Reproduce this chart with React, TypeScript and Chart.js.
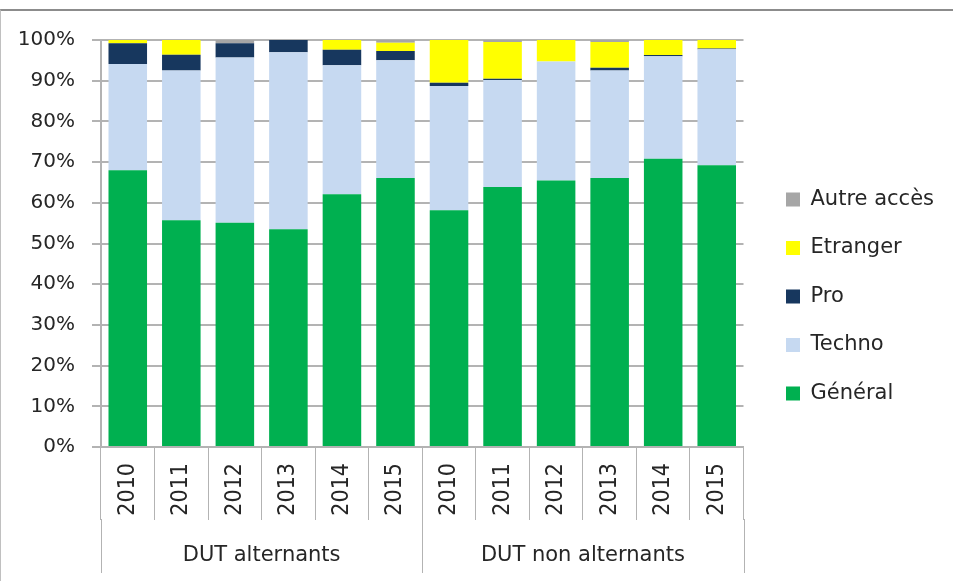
import React, { useEffect, useRef } from 'react';
import { Chart, registerables } from 'chart.js';

Chart.register(...registerables);

// ---- data ----
const years = ['2010', '2011', '2012', '2013', '2014', '2015'];
const groups = ['DUT alternants', 'DUT non alternants'];
const categories = groups.flatMap(() => years);

const general = [68.0, 55.7, 55.1, 53.5, 62.1, 66.1, 58.2, 63.9, 65.5, 66.1, 70.8, 69.2];
const techno = [26.1, 36.8, 40.6, 43.5, 31.7, 28.9, 30.5, 26.3, 29.2, 26.4, 25.2, 28.5];
const pro = [5.1, 3.9, 3.5, 3.0, 3.8, 2.3, 0.8, 0.3, 0.0, 0.7, 0.3, 0.2];
const etranger = [0.8, 3.6, 0.0, 0.0, 2.4, 2.0, 10.5, 9.0, 5.3, 6.3, 3.7, 2.1];
const autre = [0.0, 0.0, 0.8, 0.0, 0.0, 0.7, 0.0, 0.5, 0.0, 0.5, 0.0, 0.0];

const seriesNames = ['Général', 'Techno', 'Pro', 'Etranger', 'Autre accès'];
const seriesValues = [general, techno, pro, etranger, autre];
const seriesColors = ['#00B050', '#C6D9F1', '#17375E', '#FFFF00', '#A6A6A6'];

const yMax = 100;
const yStep = 10;

// ---- style ----
const TEXT = '#262626';
const GRID = '#b3b3b3';
const FONT = 'DejaVu Sans, sans-serif';
const FONT_COND = '"DejaVu Sans Condensed", "DejaVu Sans", sans-serif';
const TICK_LEN_X = 73;
const GROUP_LEN = 126;

const groupPlugin = {
  id: 'groupLabels',
  afterDraw(chart: any) {
    const xs = chart.scales.x;
    const ctx = chart.ctx;
    const n = years.length;
    const step = xs.getPixelForValue(1) - xs.getPixelForValue(0);
    ctx.save();
    ctx.strokeStyle = GRID;
    ctx.lineWidth = 1;
    for (let g = 0; g <= groups.length; g++) {
      const x = Math.round(xs.getPixelForValue(g * n) - step / 2) + 0.5;
      ctx.beginPath();
      ctx.moveTo(x, xs.top + TICK_LEN_X - 1);
      ctx.lineTo(x, xs.top + GROUP_LEN);
      ctx.stroke();
    }
    ctx.fillStyle = TEXT;
    ctx.font = `21px ${FONT}`;
    ctx.textAlign = 'center';
    ctx.textBaseline = 'middle';
    groups.forEach((name, g) => {
      const x0 = xs.getPixelForValue(g * n) - step / 2;
      const x1 = xs.getPixelForValue((g + 1) * n) - step / 2;
      ctx.fillText(name, (x0 + x1) / 2, xs.top + 109);
    });
    ctx.restore();
  },
};

export default function App() {
  const ref = useRef<HTMLCanvasElement | null>(null);

  useEffect(() => {
    if (!ref.current) return;
    const chart = new Chart(ref.current, {
      type: 'bar',
      data: {
        labels: categories,
        datasets: seriesNames.map((name, i) => ({
          label: name,
          data: seriesValues[i],
          backgroundColor: seriesColors[i],
          borderWidth: 0,
          barPercentage: 0.72,
          categoryPercentage: 1,
        })),
      },
      options: {
        responsive: false,
        maintainAspectRatio: false,
        animation: false,
        layout: { padding: { top: 12, right: 9, bottom: 0, left: 0 } },
        plugins: {
          tooltip: { enabled: false },
          legend: {
            position: 'right',
            align: 'center',
            reverse: true,
            maxWidth: 400,
            labels: {
              boxWidth: 14,
              boxHeight: 14,
              padding: 27.5,
              color: TEXT,
              font: { family: FONT, size: 21 },
            },
          },
        },
        scales: {
          x: {
            stacked: true,
            offset: true,
            grid: {
              offset: true,
              drawOnChartArea: false,
              drawTicks: true,
              tickLength: TICK_LEN_X,
              color: GRID,
              lineWidth: 1,
            },
            border: { display: true, color: GRID, width: 2 },
            ticks: {
              autoSkip: false,
              minRotation: 90,
              maxRotation: 90,
              padding: -57,
              color: TEXT,
              font: { family: FONT_COND, size: 23 },
            },
            afterFit: (s: any) => {
              s.height = 134;
            },
          },
          y: {
            stacked: true,
            min: 0,
            max: yMax,
            grid: { color: GRID, lineWidth: 2, tickLength: 9 },
            border: { display: true, color: GRID, width: 2 },
            ticks: {
              stepSize: yStep,
              padding: 17,
              color: TEXT,
              font: { family: FONT, size: 20 },
              callback: (v: any) => `${v}%`,
            },
            afterFit: (s: any) => {
              s.width = 101;
            },
          },
          topSpacer: {
            type: 'linear',
            position: 'top',
            display: true,
            grid: { display: false },
            border: { display: false },
            ticks: { display: false },
            afterFit: (s: any) => {
              s.height = 28;
            },
          },
          rightSpacer: {
            type: 'linear',
            position: 'right',
            display: true,
            grid: { display: false },
            border: { display: false },
            ticks: { display: false },
            afterFit: (s: any) => {
              s.width = 15;
            },
          },
        },
      },
      plugins: [groupPlugin],
    } as any);
    return () => chart.destroy();
  }, []);

  return (
    <div style={{ position: 'fixed', left: 0, top: 0, width: 953, height: 581, background: '#fff', overflow: 'hidden' }}>
      <canvas ref={ref} width={953} height={581} style={{ display: 'block' }} />
      <div
        style={{
          position: 'absolute',
          left: 0,
          top: 9,
          width: 960,
          height: 580,
          boxSizing: 'border-box',
          borderTop: '2px solid #8c8c8c',
          borderLeft: '1px solid #c0c0c0',
          pointerEvents: 'none',
        }}
      />
    </div>
  );
}
